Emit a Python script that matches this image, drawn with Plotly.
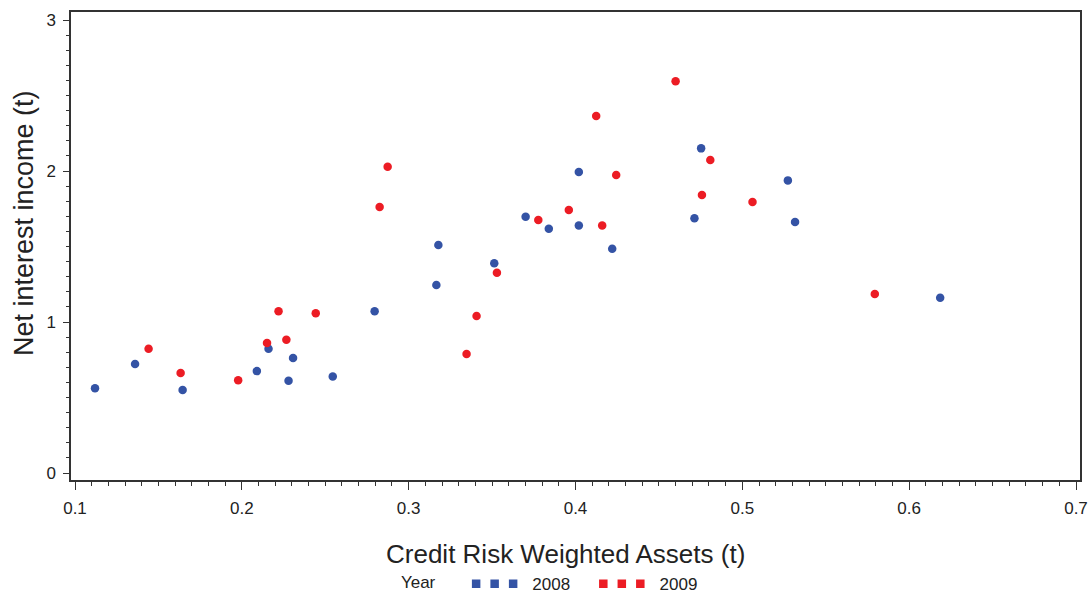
import plotly.graph_objects as go

# ---- data ----
x_2008 = [0.112, 0.136, 0.1645, 0.209, 0.216, 0.228, 0.2307, 0.2545, 0.2796, 0.3166, 0.3178,
          0.3513, 0.3701, 0.384, 0.402, 0.402, 0.422, 0.4713, 0.4753, 0.5273, 0.5316, 0.6186]
y_2008 = [0.561, 0.722, 0.550, 0.675, 0.823, 0.611, 0.762, 0.640, 1.071, 1.245, 1.510,
          1.389, 1.697, 1.618, 1.993, 1.640, 1.485, 1.687, 2.150, 1.938, 1.662, 1.161]

x_2009 = [0.1441, 0.1633, 0.1978, 0.2151, 0.222, 0.2267, 0.2443, 0.2826, 0.2874, 0.3347, 0.3407,
          0.3529, 0.3777, 0.396, 0.4124, 0.416, 0.4244, 0.460, 0.4758, 0.4808, 0.5061, 0.5794]
y_2009 = [0.823, 0.662, 0.614, 0.861, 1.071, 0.883, 1.058, 1.762, 2.029, 0.788, 1.040,
          1.327, 1.675, 1.742, 2.364, 1.640, 1.974, 2.594, 1.841, 2.073, 1.795, 1.185]

years = ["2008", "2009"]
x_ticks = [0.1, 0.2, 0.3, 0.4, 0.5, 0.6, 0.7]
y_ticks = [0, 1, 2, 3]

BLUE = "#3453A5"
RED = "#EC1C24"
FONT = "Liberation Sans, Arial, sans-serif"
TXT = "#222222"
AX = "#333333"
NB = "\u00a0"

fig = go.Figure()
fig.add_trace(go.Scatter(x=x_2008, y=y_2008, mode="markers", name=years[0], showlegend=False,
                         marker=dict(color=BLUE, size=8.5, line=dict(width=0))))
fig.add_trace(go.Scatter(x=x_2009, y=y_2009, mode="markers", name=years[1], showlegend=False,
                         marker=dict(color=RED, size=8.5, line=dict(width=0))))
# legend proxies (three-dot symbols)
legend_names = [NB * 2 + years[0] + NB * 4, NB * 2 + years[1]]
for name, col in zip(legend_names, [BLUE, RED]):
    fig.add_trace(go.Scatter(x=[None], y=[None], mode="lines", name=name,
                             line=dict(color=col, width=8.5, dash="8.5px,10px")))

axis_common = dict(showgrid=False, zeroline=False, showline=True, linecolor=AX, linewidth=1.5,
                   mirror=True, ticks="outside", tickcolor=AX, tickwidth=1.3, automargin=False,
                   tickfont=dict(family=FONT, size=17, color=TXT))

fig.update_xaxes(range=[0.0976, 0.7024], tickvals=x_ticks, ticktext=[f"{v:g}" for v in x_ticks],
                 ticklen=8, ticklabelstandoff=4,
                 minor=dict(dtick=0.01, tick0=0.1, ticks="outside", ticklen=4, tickcolor=AX, tickwidth=1.2),
                 **axis_common)
fig.update_yaxes(range=[-0.046, 3.053], tickvals=y_ticks, ticktext=[str(v) for v in y_ticks],
                 ticklen=6, ticklabelstandoff=4,
                 minor=dict(dtick=0.1, tick0=0, ticks="outside", ticklen=3, tickcolor=AX, tickwidth=1.2),
                 **axis_common)

fig.update_layout(
    width=1092, height=594,
    margin=dict(l=71, r=12, t=12, b=114, autoexpand=False),
    paper_bgcolor="white", plot_bgcolor="white",
    font=dict(family=FONT, color=TXT),
    legend=dict(orientation="h", x=0.325, xanchor="left", y=-0.2225, yanchor="middle",
                title=dict(text="Year" + NB * 5, side="left", font=dict(family=FONT, size=17, color=TXT)),
                font=dict(family=FONT, size=17, color=TXT), itemwidth=46,
                bgcolor="rgba(0,0,0,0)"),
    annotations=[
        dict(text="Credit Risk Weighted Assets (t)", xref="paper", yref="paper",
             x=0.4896, y=-0.158, xanchor="center", yanchor="middle", showarrow=False,
             font=dict(family=FONT, size=26, color=TXT)),
        dict(text="Net interest income (t)", xref="paper", yref="paper",
             x=-0.0466, y=0.549, xanchor="center", yanchor="middle", textangle=-90, showarrow=False,
             font=dict(family=FONT, size=27, color=TXT)),
    ],
)

fig.write_html("out.html", config={"displayModeBar": False},
               post_script="document.body.style.margin='0';document.body.style.overflow='hidden';")
